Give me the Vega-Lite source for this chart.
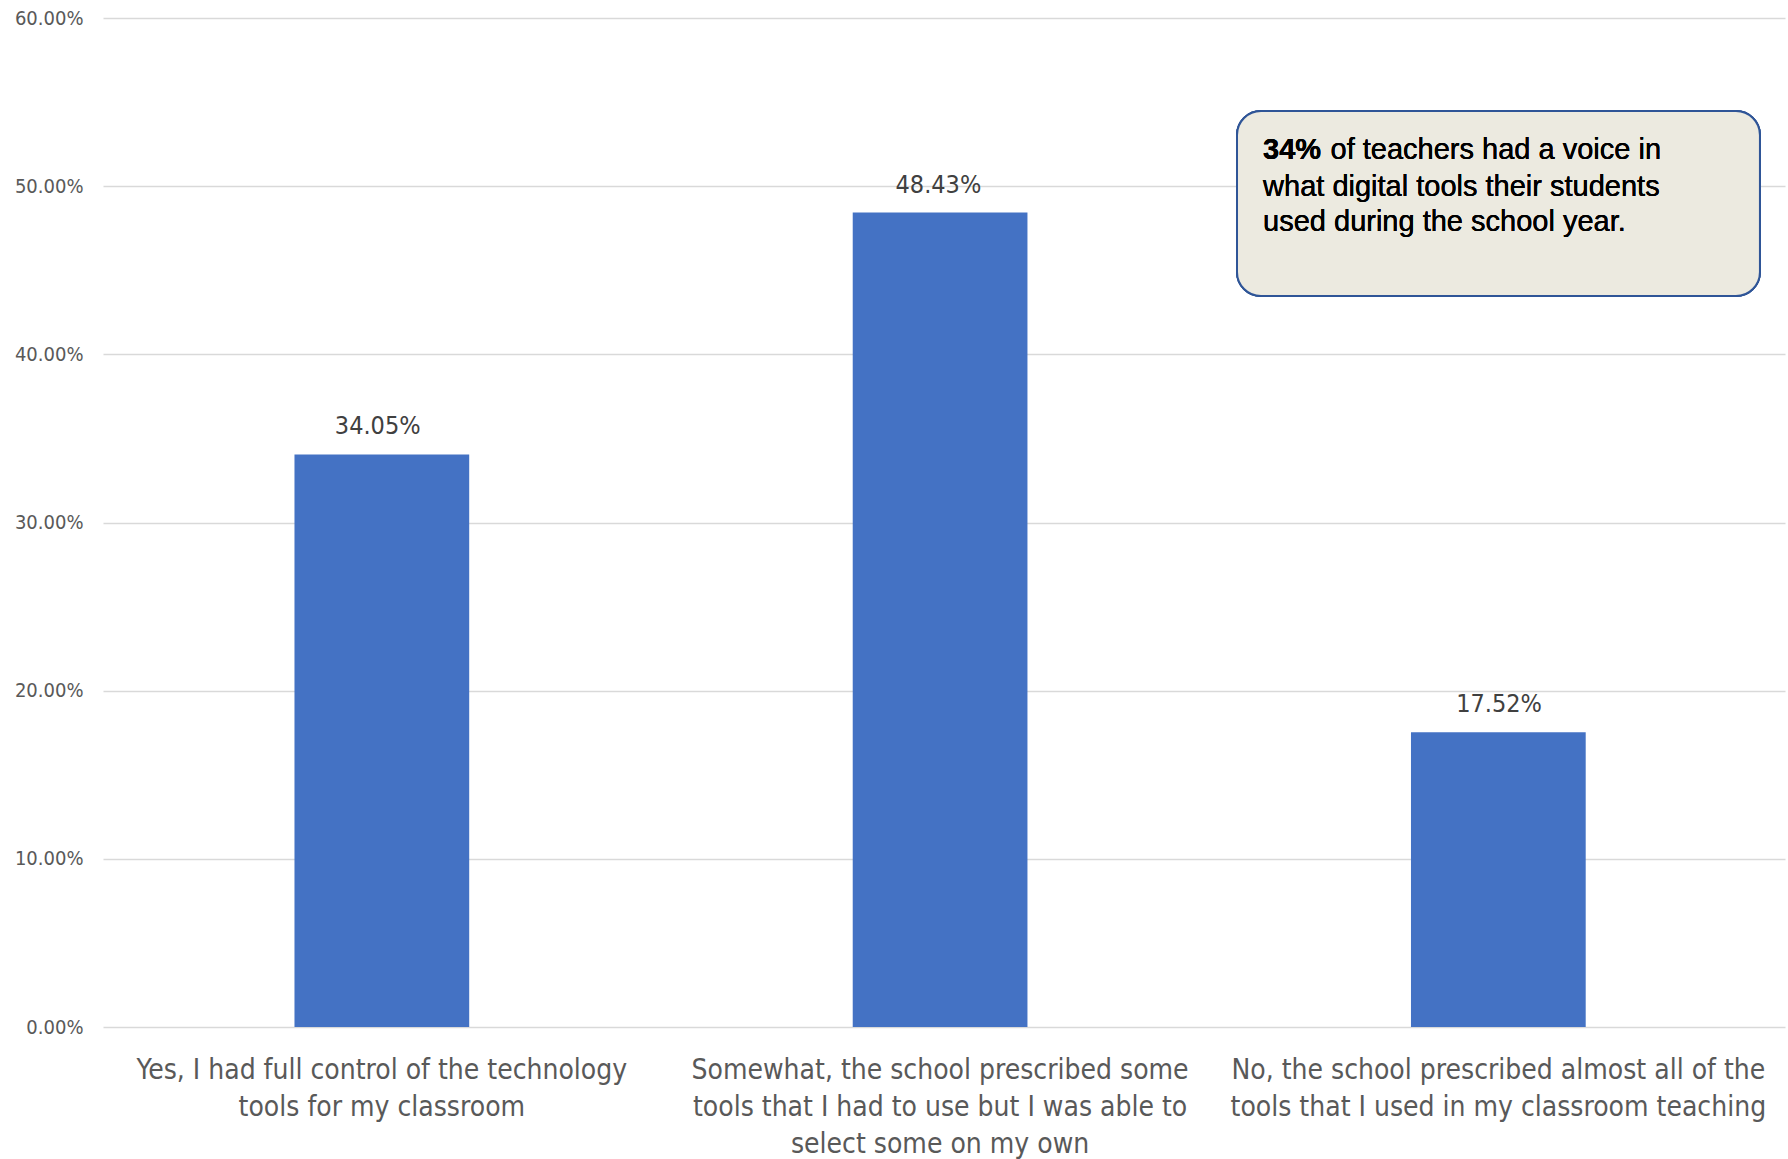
{
  "$schema": "https://vega.github.io/schema/vega-lite/v6.json",
  "width": 1682,
  "height": 1009,
  "autosize": {"type": "none"},
  "padding": {"left": 103, "top": 18, "right": 3, "bottom": 132},
  "background": "white",
  "config": {"view": {"stroke": null}},
  "data": {"values": [
    {"answer": "Yes, I had full control of the technology tools for my classroom", "share": 0.3405},
    {"answer": "Somewhat, the school prescribed some tools that I had to use but I was able to select some on my own", "share": 0.4843},
    {"answer": "No, the school prescribed almost all of the tools that I used in my classroom teaching", "share": 0.1752}
  ]},
  "resolve": {"scale": {"x": "independent"}, "axis": {"x": "independent"}},
  "layer": [
    {
      "mark": {"type": "bar", "color": "#4472C4"},
      "encoding": {
        "x": {"field": "answer", "type": "nominal", "sort": null,
          "scale": {"paddingInner": 0.687, "paddingOuter": 0.35, "align": 0.49},
          "axis": {"title": null, "labelAngle": 0, "domain": false, "ticks": false,
            "labelFont": "Liberation Sans Narrow, DejaVu Sans Condensed, Lato, sans-serif",
            "labelFontSize": 28, "labelColor": "#595959", "labelPadding": 29, "labelLineHeight": 37,
            "labelBaseline": "top", "labelLimit": 700,
            "labelExpr": "indexof(datum.value, 'Yes') == 0 ? ['Yes, I had full control of the technology', 'tools for my classroom'] : indexof(datum.value, 'Somewhat') == 0 ? ['Somewhat, the school prescribed some', 'tools that I had to use but I was able to', 'select some on my own'] : ['No, the school prescribed almost all of the', 'tools that I used in my classroom teaching']"}},
        "y": {"field": "share", "type": "quantitative",
          "scale": {"domain": [0, 0.6], "nice": false},
          "axis": {"title": null, "values": [0, 0.1, 0.2, 0.3, 0.4, 0.5, 0.6], "format": ".2%",
            "domain": false, "ticks": false, "gridColor": "#D9D9D9", "gridWidth": 1.5,
            "labelFont": "Liberation Sans Narrow, DejaVu Sans Condensed, Lato, sans-serif",
            "labelFontSize": 20, "labelColor": "#595959", "labelPadding": 20}}
      }
    },
    {
      "mark": {"type": "text", "dy": -28, "baseline": "middle",
        "font": "Liberation Sans Narrow, DejaVu Sans Condensed, Lato, sans-serif",
        "fontSize": 25, "color": "#404040"},
      "encoding": {
        "x": {"field": "answer", "type": "nominal", "sort": null,
          "scale": {"paddingInner": 0.687, "paddingOuter": 0.35, "align": 0.49}, "axis": null},
        "y": {"field": "share", "type": "quantitative", "scale": {"domain": [0, 0.6], "nice": false}},
        "text": {"field": "share", "type": "quantitative", "format": ".2%"}
      }
    },
    {
      "mark": {"type": "rect", "fill": "#ECEAE0", "stroke": "#2F5597", "strokeWidth": 2, "cornerRadius": 24},
      "encoding": {
        "x": {"datum": 0.6742, "type": "quantitative", "scale": {"domain": [0, 1], "nice": false, "zero": false}, "axis": null},
        "x2": {"datum": 0.9851},
        "y": {"datum": 0.5447, "type": "quantitative"},
        "y2": {"datum": 0.4347}
      }
    },
    {
      "mark": {"type": "text", "align": "left", "baseline": "middle", "font": "Liberation Sans, Arial, sans-serif",
        "fontSize": 29, "fontWeight": "bold", "color": "#000000"},
      "encoding": {
        "x": {"datum": 0.6897, "type": "quantitative", "scale": {"domain": [0, 1], "nice": false, "zero": false}, "axis": null},
        "y": {"datum": 0.5215, "type": "quantitative"},
        "text": {"value": "34%"}
      }
    },
    {
      "mark": {"type": "text", "align": "left", "baseline": "middle", "font": "Liberation Sans, Arial, sans-serif",
        "fontSize": 29, "color": "#000000"},
      "encoding": {
        "x": {"datum": 0.7298, "type": "quantitative", "scale": {"domain": [0, 1], "nice": false, "zero": false}, "axis": null},
        "y": {"datum": 0.5215, "type": "quantitative"},
        "text": {"value": "of teachers had a voice in"}
      }
    },
    {
      "mark": {"type": "text", "align": "left", "baseline": "middle", "font": "Liberation Sans, Arial, sans-serif",
        "fontSize": 29, "color": "#000000"},
      "encoding": {
        "x": {"datum": 0.6897, "type": "quantitative", "scale": {"domain": [0, 1], "nice": false, "zero": false}, "axis": null},
        "y": {"datum": 0.4995, "type": "quantitative"},
        "text": {"value": "what digital tools their students"}
      }
    },
    {
      "mark": {"type": "text", "align": "left", "baseline": "middle", "font": "Liberation Sans, Arial, sans-serif",
        "fontSize": 29, "color": "#000000"},
      "encoding": {
        "x": {"datum": 0.6897, "type": "quantitative", "scale": {"domain": [0, 1], "nice": false, "zero": false}, "axis": null},
        "y": {"datum": 0.4787, "type": "quantitative"},
        "text": {"value": "used during the school year."}
      }
    }
  ]
}
